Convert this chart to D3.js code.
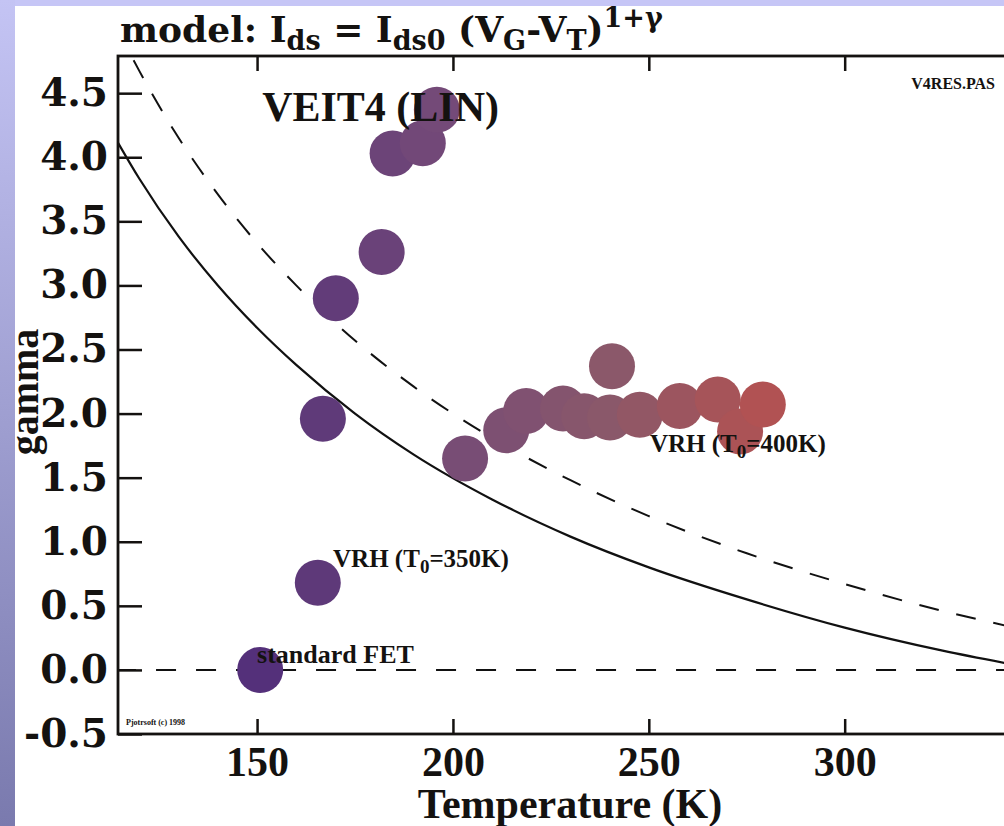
<!DOCTYPE html>
<html>
<head>
<meta charset="utf-8">
<script src="https://cdn.jsdelivr.net/npm/d3@7"></script>
<style>
  body { margin: 0; background: #fff; }
  svg { display: block; }
</style>
</head>
<body>
<svg id="chart" width="1004" height="826"></svg>
<script>
// ---- data ----
const temps  = [150.8, 165.5, 166.8, 170.1, 181.8, 184.6, 192.3, 195.9, 203.1, 213.6,
                218.7, 228.1, 233.5, 240.6, 240.1, 247.7, 257.9, 267.6, 273.3, 279.1];
const gammas = [0.00, 0.68, 1.96, 2.90, 3.26, 4.03, 4.11, 4.37, 1.65, 1.87,
                2.02, 2.04, 1.98, 2.37, 1.97, 1.99, 2.06, 2.11, 1.86, 2.07];

// model curves (VRH)
const curveT     = [114, 120, 130, 140, 150, 160, 175, 190, 210, 230, 250, 275, 300, 325, 345];
const vrh350     = [4.14, 3.83, 3.38, 3.00, 2.67, 2.38, 2.00, 1.68, 1.33, 1.04, 0.80, 0.55, 0.33, 0.15, 0.03];
const vrh400     = [5.02, 4.67, 4.15, 3.71, 3.33, 3.00, 2.57, 2.21, 1.81, 1.48, 1.20, 0.91, 0.67, 0.46, 0.32];
const fetT       = [114, 345];
const fetGamma   = [0, 0];

const xTicks = [150, 200, 250, 300];
const yTicks = [-0.5, 0, 0.5, 1, 1.5, 2, 2.5, 3, 3.5, 4, 4.5];

// ---- layout ----
const svg = d3.select("#chart");
const W = 1004, H = 826;
const plot = { left: 118, right: 1010, top: 56, bottom: 734 };

// slide background: lavender strip on top, gradient strip on the left
const defs = svg.append("defs");
const grad = defs.append("linearGradient").attr("id", "sideGrad")
  .attr("x1", 0).attr("y1", 0).attr("x2", 0).attr("y2", 1);
grad.append("stop").attr("offset", "0%").attr("stop-color", "#c4c4f4");
grad.append("stop").attr("offset", "100%").attr("stop-color", "#7a7aae");

svg.append("rect").attr("width", W).attr("height", H).attr("fill", "#fff");
svg.append("rect").attr("x", 0).attr("y", 0).attr("width", W).attr("height", 6).attr("fill", "#c6c6f6");
svg.append("rect").attr("x", 0).attr("y", 0).attr("width", 15).attr("height", H).attr("fill", "url(#sideGrad)");

defs.append("clipPath").attr("id", "plotClip")
  .append("rect")
  .attr("x", plot.left).attr("y", plot.top)
  .attr("width", plot.right - plot.left).attr("height", plot.bottom - plot.top);

const x = d3.scaleLinear().domain([114.5, 342.2]).range([plot.left, plot.right]);
const y = d3.scaleLinear().domain([-0.5, 4.79]).range([plot.bottom, plot.top]);

const color = d3.scaleLinear()
  .domain([150, 195, 240, 280])
  .range(["#53307a", "#744a78", "#8a586a", "#b25252"]);

// ---- curves ----
const lineGen = d3.line()
  .x(d => x(d[0]))
  .y(d => y(d[1]))
  .curve(d3.curveMonotoneX);

const curves = svg.append("g").attr("clip-path", "url(#plotClip)");

curves.append("path")
  .datum(d3.zip(fetT, fetGamma))
  .attr("d", lineGen)
  .attr("fill", "none").attr("stroke", "#111").attr("stroke-width", 2)
  .attr("stroke-dasharray", "20,20");

curves.append("path")
  .datum(d3.zip(curveT, vrh350))
  .attr("d", lineGen)
  .attr("fill", "none").attr("stroke", "#111").attr("stroke-width", 2.2);

curves.append("path")
  .datum(d3.zip(curveT, vrh400))
  .attr("d", lineGen)
  .attr("fill", "none").attr("stroke", "#111").attr("stroke-width", 2)
  .attr("stroke-dasharray", "20,18");

// ---- points ----
const pts = d3.zip(temps, gammas);
svg.append("g").attr("clip-path", "url(#plotClip)")
  .selectAll("circle")
  .data(pts)
  .join("circle")
  .attr("cx", d => x(d[0]))
  .attr("cy", d => y(d[1]))
  .attr("r", 23)
  .attr("fill", d => color(d[0]));

// ---- axes ----
const tickColor = "#141210";
const fmt = d => d3.format(".1f")(d).replace("\u2212", "-");

const gLeft = svg.append("g")
  .attr("transform", `translate(${plot.left},0)`)
  .call(d3.axisLeft(y).tickValues(yTicks).tickSizeInner(-24).tickSizeOuter(0).tickPadding(10)
    .tickFormat(fmt));
gLeft.select(".domain").remove();
gLeft.selectAll("line").attr("stroke", tickColor).attr("stroke-width", 2.5);
gLeft.selectAll("text")
  .attr("fill", tickColor)
  .style("font-family", "'DejaVu Serif', serif")
  .style("font-weight", "bold")
  .style("font-size", "39px");

const gBottom = svg.append("g")
  .attr("transform", `translate(0,${plot.bottom})`)
  .call(d3.axisBottom(x).tickValues(xTicks).tickSizeInner(-15).tickSizeOuter(0).tickPadding(12));
gBottom.select(".domain").remove();
gBottom.selectAll("line").attr("stroke", tickColor).attr("stroke-width", 2.5);
gBottom.selectAll("text")
  .attr("fill", tickColor)
  .style("font-family", "'Liberation Serif', serif")
  .style("font-weight", "bold")
  .style("font-size", "42px");

const gTop = svg.append("g")
  .attr("transform", `translate(0,${plot.top})`)
  .call(d3.axisTop(x).tickValues(xTicks).tickSizeInner(-15).tickSizeOuter(0).tickFormat(""));
gTop.select(".domain").remove();
gTop.selectAll("line").attr("stroke", tickColor).attr("stroke-width", 2.5);

// frame (right side runs off the picture)
svg.append("rect")
  .attr("x", plot.left).attr("y", plot.top)
  .attr("width", plot.right - plot.left).attr("height", plot.bottom - plot.top)
  .attr("fill", "none").attr("stroke", tickColor).attr("stroke-width", 2.8);

// ---- texts ----
const serif = "'Liberation Serif', serif";

function label(tx, ty, size, parts) {
  const t = svg.append("text")
    .attr("x", tx).attr("y", ty)
    .attr("fill", tickColor)
    .style("font-family", serif)
    .style("font-weight", "bold")
    .style("font-size", size + "px");
  parts.forEach(p => {
    const s = t.append("tspan").text(p.t);
    if (p.size) s.style("font-size", p.size + "px");
    if (p.dy) s.attr("dy", p.dy);
  });
  return t;
}

// title
const title = svg.append("text")
  .attr("x", 120).attr("y", 42)
  .attr("fill", tickColor)
  .style("font-family", "'DejaVu Serif', serif")
  .style("font-weight", "bold")
  .style("font-size", "36px");
[
  { t: "model: I" },
  { t: "ds", size: 27, dy: 8 },
  { t: " = I", dy: -8 },
  { t: "ds0", size: 27, dy: 8 },
  { t: " (V", dy: -8 },
  { t: "G", size: 27, dy: 8 },
  { t: "-V", dy: -8 },
  { t: "T", size: 27, dy: 8 },
  { t: ")", dy: -8 },
  { t: "1+\u03b3", size: 27, dy: -15 }
].forEach(p => {
  const s = title.append("tspan").text(p.t);
  if (p.size) s.style("font-size", p.size + "px");
  if (p.dy) s.attr("dy", p.dy);
});

label(x(151.3), y(4.28), 42, [{ t: "VEIT4 (LIN)" }]);
label(x(150.0), y(0.054), 26, [{ t: "standard FET" }]);
label(x(169.4), y(0.80), 25, [
  { t: "VRH (T" }, { t: "0", size: 19, dy: 6 }, { t: "=350K)", dy: -6 }
]);
label(x(250.3), y(1.70), 25, [
  { t: "VRH (T" }, { t: "0", size: 19, dy: 6 }, { t: "=400K)", dy: -6 }
]);

svg.append("text")
  .attr("x", 995).attr("y", 89)
  .attr("text-anchor", "end")
  .attr("fill", tickColor)
  .style("font-family", serif).style("font-weight", "bold").style("font-size", "16px")
  .text("V4RES.PAS");

svg.append("text")
  .attr("x", 126).attr("y", 725)
  .attr("fill", tickColor)
  .style("font-family", serif).style("font-weight", "bold")
  .style("font-size", "8px")
  .text("Pjotrsoft (c) 1998");

// axis titles
svg.append("text")
  .attr("x", 570).attr("y", 818)
  .attr("text-anchor", "middle")
  .attr("fill", tickColor)
  .style("font-family", serif).style("font-weight", "bold").style("font-size", "42px")
  .text("Temperature (K)");

svg.append("text")
  .attr("transform", "translate(38,392) rotate(-90)")
  .attr("text-anchor", "middle")
  .attr("fill", tickColor)
  .style("font-family", serif).style("font-weight", "bold").style("font-size", "40px")
  .text("gamma");
</script>
</body>
</html>
